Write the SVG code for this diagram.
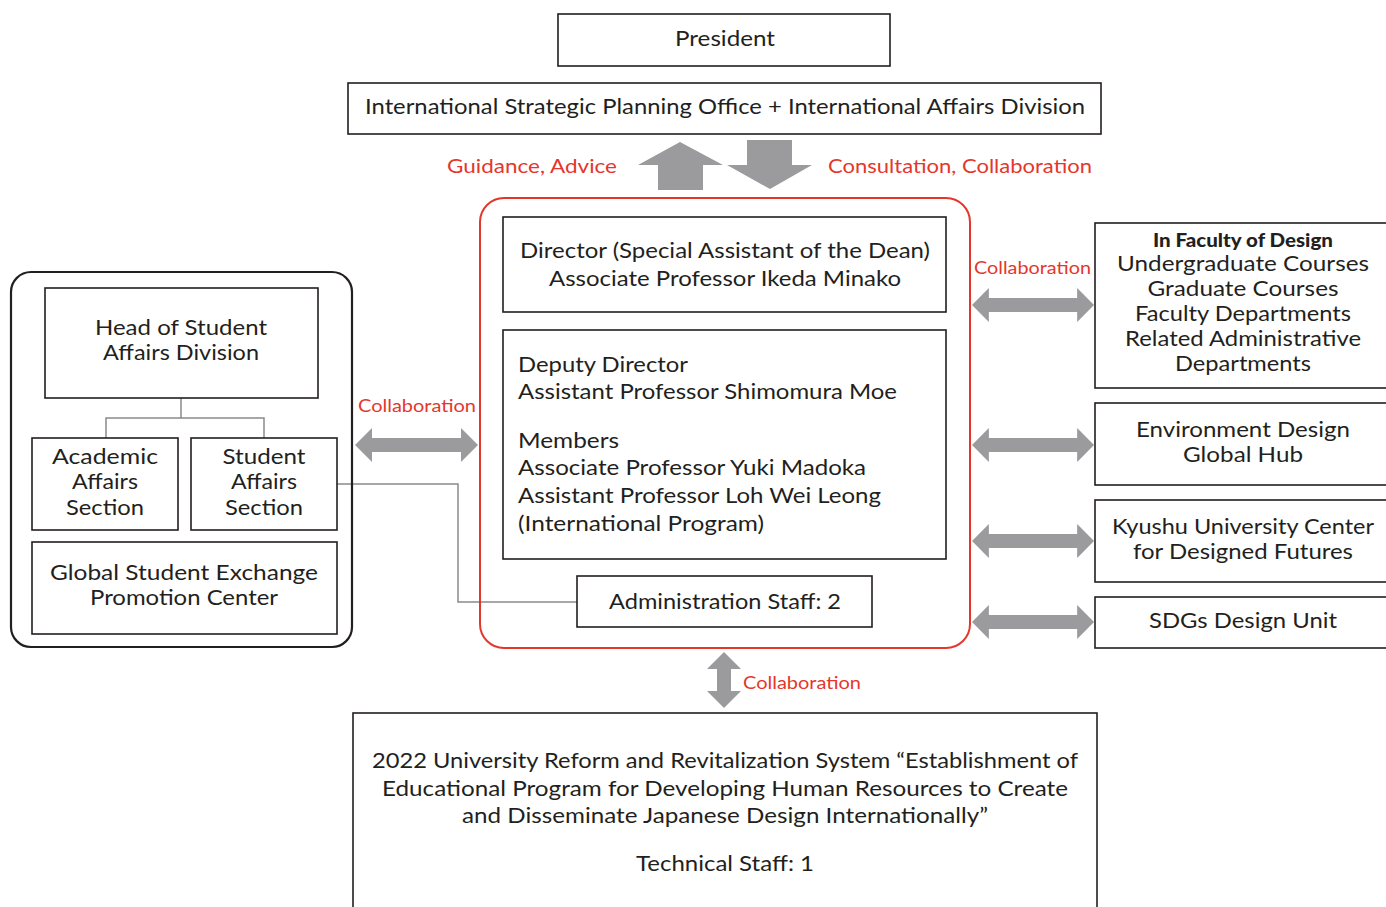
<svg xmlns="http://www.w3.org/2000/svg" width="1386" height="907" viewBox="0 0 1386 907">
<defs>
<style>
text{font-family:Lato,"Noto Sans","Liberation Sans",sans-serif;fill:#231f20;font-size:22px}
.c{text-anchor:middle}
.r{fill:#e5362c;font-size:20px}
.rs{fill:#e5362c;font-size:18px}
.box{fill:#fff;stroke:#231f20;stroke-width:1.6}
.arr{fill:#9b9b9d}
.ln{fill:none;stroke:#8a8a8a;stroke-width:1.5}
</style>
<path id="harr" d="M0,0 L17,-17 L17,-7 L106,-7 L106,-17 L123,0 L106,17 L106,7 L17,7 L17,17 Z"/>
</defs>
<rect width="1386" height="907" fill="#fff"/>
<g id="president"><rect class="box" x="558" y="14" width="332" height="52"/><text class="c" x="725" y="46" textLength="100" lengthAdjust="spacingAndGlyphs">President</text></g>
<g id="ispo"><rect class="box" x="348" y="83" width="753" height="51"/><text class="c" x="725" y="114" textLength="720" lengthAdjust="spacingAndGlyphs">International Strategic Planning Office + International Affairs Division</text></g>
<g id="labels-top">
<text class="r" x="447" y="173" textLength="170" lengthAdjust="spacingAndGlyphs">Guidance, Advice</text>
<text class="r" x="828" y="173" textLength="264" lengthAdjust="spacingAndGlyphs">Consultation, Collaboration</text>
</g>
<g id="connectors">
<path class="arr" d="M680,142 L723,165 L703,165 L703,190 L658,190 L658,165 L638,165 Z"/>
<path class="arr" d="M747,140 L792,140 L792,165 L812,165 L770,189 L727,165 L747,165 Z"/>
<use href="#harr" class="arr" transform="translate(355,445)"/>
<use href="#harr" class="arr" transform="translate(972,305) scale(0.992,1)"/>
<use href="#harr" class="arr" transform="translate(972,445) scale(0.992,1)"/>
<use href="#harr" class="arr" transform="translate(972,541) scale(0.992,1)"/>
<use href="#harr" class="arr" transform="translate(972,622) scale(0.992,1)"/>
<path class="arr" d="M724,652 L741,669 L731,669 L731,691 L741,691 L724,708 L707,691 L717,691 L717,669 L707,669 Z"/>
<path class="ln" d="M181,398 V418 M106,438 V418 H264 V438"/>
<path class="ln" d="M337,484 H458 V602 H577"/>
<text class="rs" x="358" y="412" textLength="118" lengthAdjust="spacingAndGlyphs">Collaboration</text>
<text class="rs" x="974" y="274" textLength="117" lengthAdjust="spacingAndGlyphs">Collaboration</text>
<text class="rs" x="743" y="689" textLength="118" lengthAdjust="spacingAndGlyphs">Collaboration</text>
</g>
<g id="center-group">
<rect x="480" y="198" width="490" height="450" rx="24" fill="none" stroke="#e5362c" stroke-width="2"/>
</g>
<g id="director"><rect class="box" x="503" y="217" width="443" height="95"/>
<text class="c" x="725" y="258" textLength="410" lengthAdjust="spacingAndGlyphs">Director (Special Assistant of the Dean)</text>
<text class="c" x="725" y="286" textLength="352" lengthAdjust="spacingAndGlyphs">Associate Professor Ikeda Minako</text></g>
<g id="deputy"><rect class="box" x="503" y="330" width="443" height="229"/>
<text x="518" y="372" textLength="170" lengthAdjust="spacingAndGlyphs">Deputy Director</text>
<text x="518" y="399" textLength="379" lengthAdjust="spacingAndGlyphs">Assistant Professor Shimomura Moe</text>
<text x="518" y="448" textLength="101" lengthAdjust="spacingAndGlyphs">Members</text>
<text x="518" y="475" textLength="348" lengthAdjust="spacingAndGlyphs">Associate Professor Yuki Madoka</text>
<text x="518" y="503" textLength="363" lengthAdjust="spacingAndGlyphs">Assistant Professor Loh Wei Leong</text>
<text x="518" y="531" textLength="246" lengthAdjust="spacingAndGlyphs">(International Program)</text></g>
<g id="admin"><rect class="box" x="577" y="576" width="295" height="51"/>
<text class="c" x="725" y="609" textLength="232" lengthAdjust="spacingAndGlyphs">Administration Staff: 2</text></g>
<g id="student-division">
<rect x="11" y="272" width="341" height="375" rx="20" fill="none" stroke="#231f20" stroke-width="2.2"/>
</g>
<g id="head"><rect class="box" x="45" y="288" width="273" height="110"/>
<text class="c" x="181" y="335" textLength="172" lengthAdjust="spacingAndGlyphs">Head of Student</text>
<text class="c" x="181" y="360" textLength="156" lengthAdjust="spacingAndGlyphs">Affairs Division</text></g>
<g id="academic"><rect class="box" x="32" y="438" width="146" height="92"/>
<text class="c" x="105" y="464" textLength="106" lengthAdjust="spacingAndGlyphs">Academic</text><text class="c" x="105" y="489" textLength="66" lengthAdjust="spacingAndGlyphs">Affairs</text><text class="c" x="105" y="515" textLength="78" lengthAdjust="spacingAndGlyphs">Section</text></g>
<g id="student"><rect class="box" x="191" y="438" width="146" height="92"/>
<text class="c" x="264" y="464" textLength="83" lengthAdjust="spacingAndGlyphs">Student</text><text class="c" x="264" y="489" textLength="66" lengthAdjust="spacingAndGlyphs">Affairs</text><text class="c" x="264" y="515" textLength="78" lengthAdjust="spacingAndGlyphs">Section</text></g>
<g id="global"><rect class="box" x="32" y="542" width="305" height="92"/>
<text class="c" x="184" y="580" textLength="268" lengthAdjust="spacingAndGlyphs">Global Student Exchange</text>
<text class="c" x="184" y="605" textLength="188" lengthAdjust="spacingAndGlyphs">Promotion Center</text></g>
<g id="faculty"><rect class="box" x="1095" y="223" width="300" height="165"/>
<text class="c" x="1243" y="247" style="font-weight:900;font-size:18px" textLength="180" lengthAdjust="spacingAndGlyphs">In Faculty of Design</text>
<text class="c" x="1243" y="271" textLength="252" lengthAdjust="spacingAndGlyphs">Undergraduate Courses</text>
<text class="c" x="1243" y="296" textLength="191" lengthAdjust="spacingAndGlyphs">Graduate Courses</text>
<text class="c" x="1243" y="321" textLength="216" lengthAdjust="spacingAndGlyphs">Faculty Departments</text>
<text class="c" x="1243" y="346" textLength="236" lengthAdjust="spacingAndGlyphs">Related Administrative</text>
<text class="c" x="1243" y="371" textLength="136" lengthAdjust="spacingAndGlyphs">Departments</text></g>
<g id="env"><rect class="box" x="1095" y="403" width="300" height="82"/>
<text class="c" x="1243" y="437" textLength="214" lengthAdjust="spacingAndGlyphs">Environment Design</text>
<text class="c" x="1243" y="462" textLength="120" lengthAdjust="spacingAndGlyphs">Global Hub</text></g>
<g id="kyushu"><rect class="box" x="1095" y="500" width="300" height="82"/>
<text class="c" x="1243" y="534" textLength="262" lengthAdjust="spacingAndGlyphs">Kyushu University Center</text>
<text class="c" x="1243" y="559" textLength="220" lengthAdjust="spacingAndGlyphs">for Designed Futures</text></g>
<g id="sdgs"><rect class="box" x="1095" y="597" width="300" height="51"/>
<text class="c" x="1243" y="628" textLength="188" lengthAdjust="spacingAndGlyphs">SDGs Design Unit</text></g>
<g id="program"><rect class="box" x="353" y="713" width="744" height="210"/>
<text class="c" x="725" y="768" textLength="706" lengthAdjust="spacingAndGlyphs">2022 University Reform and Revitalization System “Establishment of</text>
<text class="c" x="725" y="796" textLength="686" lengthAdjust="spacingAndGlyphs">Educational Program for Developing Human Resources to Create</text>
<text class="c" x="725" y="823" textLength="526" lengthAdjust="spacingAndGlyphs">and Disseminate Japanese Design Internationally”</text>
<text class="c" x="725" y="871" textLength="178" lengthAdjust="spacingAndGlyphs">Technical Staff: 1</text></g>
</svg>
